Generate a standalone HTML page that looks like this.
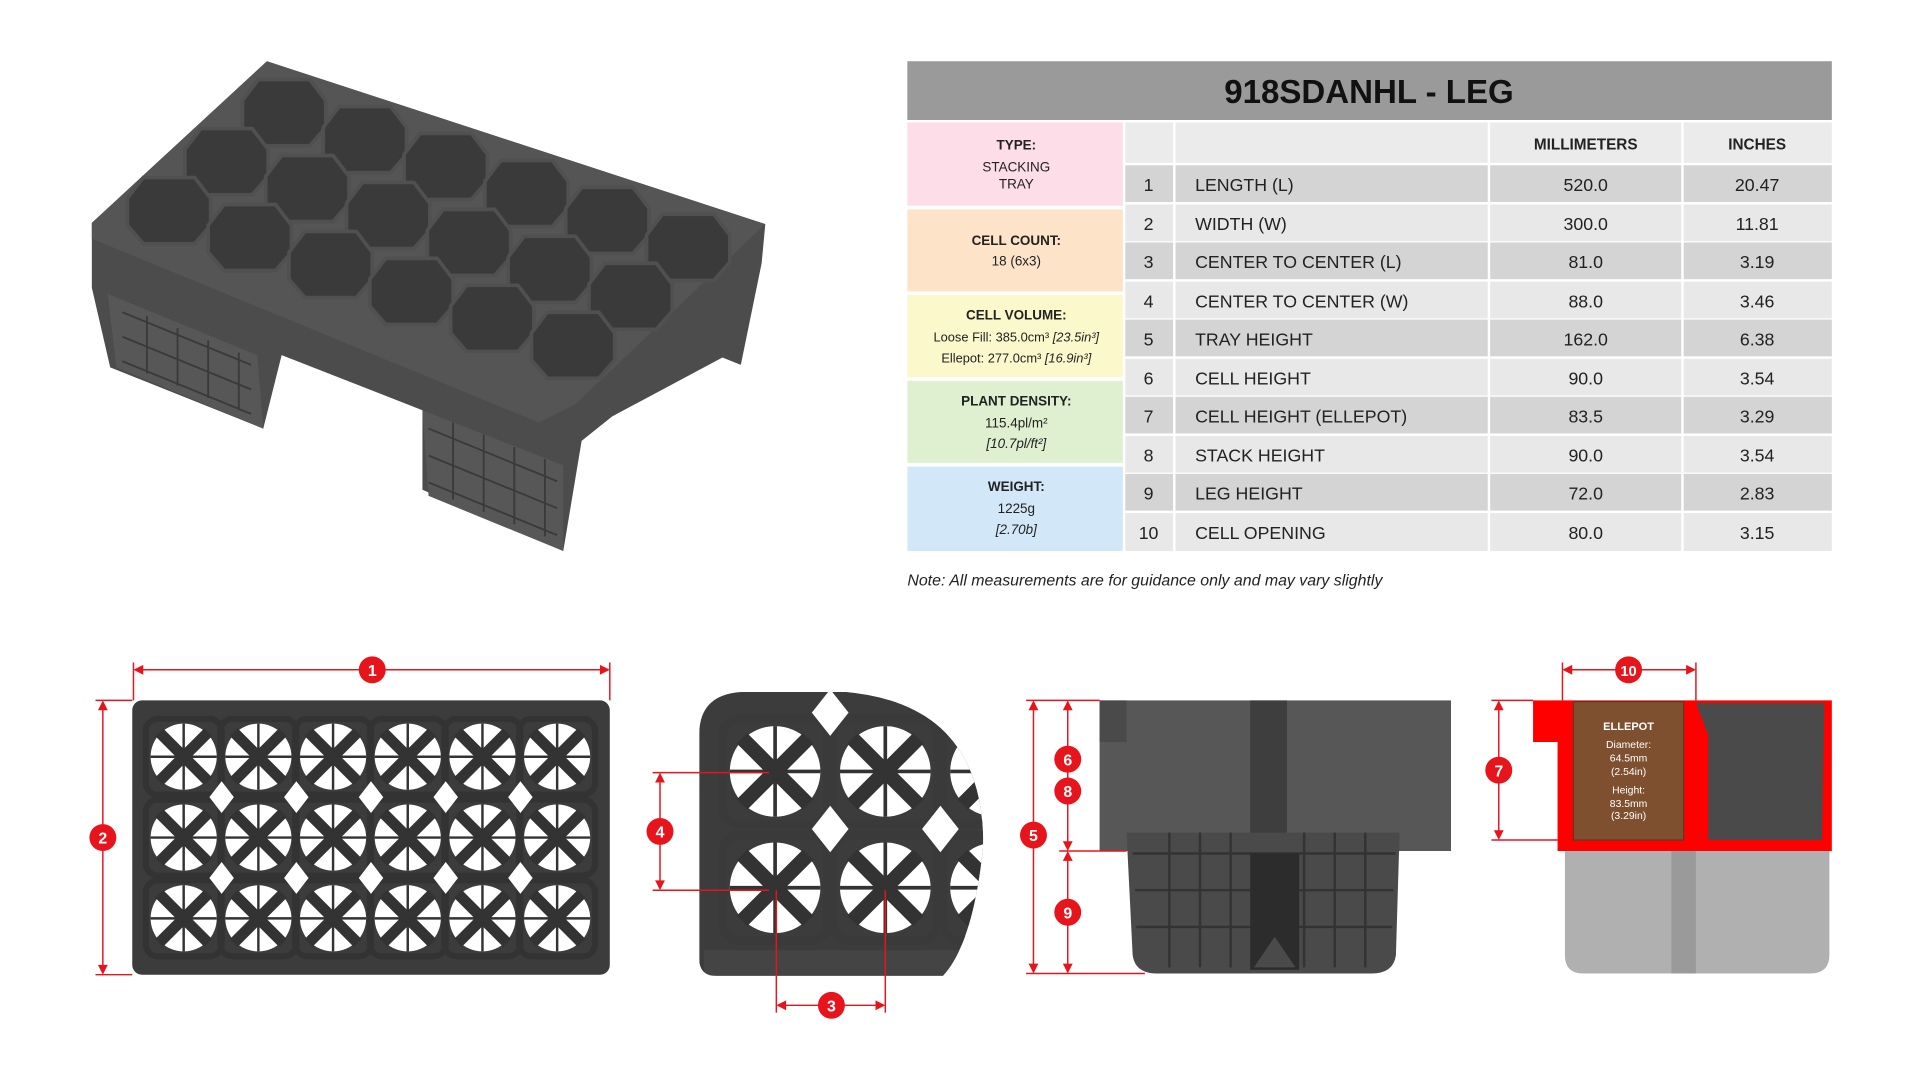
<!DOCTYPE html>
<html><head><meta charset="utf-8"><style>
html,body{margin:0;padding:0;background:#fff;width:1920px;height:1080px;overflow:hidden}
svg{display:block}
text{font-family:"Liberation Sans",sans-serif}
</style></head><body>
<svg width="1920" height="1080" viewBox="0 0 1568 882" xmlns="http://www.w3.org/2000/svg">
<defs>
<g id="cell">
<circle r="27" fill="#fff"/>
<path d="M-20,-20 L20,20 M20,-20 L-20,20" stroke="#333" stroke-width="9"/>
<path d="M-27,0 L27,0 M0,-27 L0,27" stroke="#333" stroke-width="2"/>
<rect x="-31" y="-31" width="62" height="62" fill="none" stroke="#333" stroke-width="5" rx="10"/>
</g>
<g id="bcell">
<circle r="37" fill="#fff"/>
<path d="M-27,-27 L27,27 M27,-27 L-27,27" stroke="#333" stroke-width="12"/>
<path d="M-37,0 L37,0 M0,-37 L0,37" stroke="#333" stroke-width="3"/>
<rect x="-43" y="-43" width="86" height="86" fill="none" stroke="#3a3a3a" stroke-width="7" rx="14"/>
</g>
<g id="dia"><path d="M0,-13 L10,0 L0,13 L-10,0Z" fill="#fff"/></g>
<g id="bdia"><path d="M0,-19 L15,0 L0,19 L-15,0Z" fill="#fff"/></g>
<g id="oct"><path d="M-21,-27 L21,-27 L34,-10 L34,12 L21,27 L-21,27 L-34,12 L-34,-10Z" fill="#3a3a3a" stroke="#505050" stroke-width="3"/></g>
<clipPath id="detclip"><path d="M571,600 Q571,565 610,565 L690,565 Q803,575 803,690 Q795,770 770,797 L585,797 Q571,797 571,783Z"/></clipPath>
</defs>

<!-- 3D tray -->
<g>
<polygon points="75,182 218,50 625,183 622,215 605,298 590,292 500,340 475,360 460,450 345,400 345,335 230,290 215,350 90,300 75,235" fill="#4c4c4c"/>
<polygon points="75,182 218,50 625,183 470,330 440,345 75,195" fill="#555"/>
<polygon points="88,240 210,290 215,350 95,300" fill="#575757"/>
<polygon points="345,335 460,380 460,450 350,405" fill="#575757"/>
<g stroke="#3a3a3a" stroke-width="1.5" fill="none">
<path d="M100,255 L205,298 M100,275 L205,318 M100,295 L205,338"/>
<path d="M120,258 L120,305 M145,268 L145,315 M170,278 L170,325 M195,288 L195,335"/>
<path d="M350,350 L455,393 M350,372 L455,415 M350,394 L455,437"/>
<path d="M370,345 L370,408 M395,355 L395,418 M420,365 L420,428 M445,375 L445,438"/>
</g>
<g>
<use href="#oct" x="232" y="92"/><use href="#oct" x="298" y="114"/><use href="#oct" x="364" y="136"/><use href="#oct" x="430" y="158"/><use href="#oct" x="496" y="180"/><use href="#oct" x="562" y="202"/>
<use href="#oct" x="185" y="132"/><use href="#oct" x="251" y="154"/><use href="#oct" x="317" y="176"/><use href="#oct" x="383" y="198"/><use href="#oct" x="449" y="220"/><use href="#oct" x="515" y="242"/>
<use href="#oct" x="138" y="172"/><use href="#oct" x="204" y="194"/><use href="#oct" x="270" y="216"/><use href="#oct" x="336" y="238"/><use href="#oct" x="402" y="260"/><use href="#oct" x="468" y="282"/>
</g>
</g>

<!-- Table -->
<rect x="741" y="50" width="755" height="48" fill="#9a9a9a"/>
<text x="1118" y="84" text-anchor="middle" font-size="27" font-weight="bold" fill="#111">918SDANHL - LEG</text>
<rect x="741" y="100" width="176" height="68" fill="#fcdde8"/>
<rect x="741" y="171" width="176" height="67" fill="#fde3c8"/>
<rect x="741" y="241" width="176" height="67" fill="#fbf8cb"/>
<rect x="741" y="311" width="176" height="67" fill="#def0d0"/>
<rect x="741" y="381" width="176" height="69" fill="#d2e8f8"/>
<g font-size="11" fill="#222" text-anchor="middle">
<text x="830" y="122" font-weight="bold">TYPE:</text><text x="830" y="140">STACKING</text><text x="830" y="154">TRAY</text>
<text x="830" y="200" font-weight="bold">CELL COUNT:</text><text x="830" y="217">18 (6x3)</text>
<text x="830" y="261" font-weight="bold">CELL VOLUME:</text><text x="830" y="279" font-size="10.5">Loose Fill: 385.0cm³ <tspan font-style="italic">[23.5in³]</tspan></text><text x="830" y="296" font-size="10.5">Ellepot: 277.0cm³ <tspan font-style="italic">[16.9in³]</tspan></text>
<text x="830" y="331" font-weight="bold">PLANT DENSITY:</text><text x="830" y="349">115.4pl/m²</text><text x="830" y="366" font-style="italic">[10.7pl/ft²]</text>
<text x="830" y="401" font-weight="bold">WEIGHT:</text><text x="830" y="419">1225g</text><text x="830" y="436" font-style="italic">[2.70b]</text>
</g>
<g>
<rect x="919" y="100" width="39" height="33" fill="#ebebeb"/><rect x="960" y="100" width="255" height="33" fill="#ebebeb"/><rect x="1217" y="100" width="156" height="33" fill="#ebebeb"/><rect x="1375" y="100" width="121" height="33" fill="#ebebeb"/>
<text x="1295" y="122" text-anchor="middle" font-size="12.5" font-weight="bold" fill="#222">MILLIMETERS</text>
<text x="1435" y="122" text-anchor="middle" font-size="12.5" font-weight="bold" fill="#222">INCHES</text>
</g>
<g font-size="14.5" fill="#222">
<g fill="#d4d4d4"><rect x="919" y="135" width="39" height="30"/><rect x="960" y="135" width="255" height="30"/><rect x="1217" y="135" width="156" height="30"/><rect x="1375" y="135" width="121" height="30"/></g>
<g fill="#e8e8e8"><rect x="919" y="167" width="39" height="30"/><rect x="960" y="167" width="255" height="30"/><rect x="1217" y="167" width="156" height="30"/><rect x="1375" y="167" width="121" height="30"/></g>
<g fill="#d4d4d4"><rect x="919" y="198" width="39" height="30"/><rect x="960" y="198" width="255" height="30"/><rect x="1217" y="198" width="156" height="30"/><rect x="1375" y="198" width="121" height="30"/></g>
<g fill="#e8e8e8"><rect x="919" y="230" width="39" height="30"/><rect x="960" y="230" width="255" height="30"/><rect x="1217" y="230" width="156" height="30"/><rect x="1375" y="230" width="121" height="30"/></g>
<g fill="#d4d4d4"><rect x="919" y="261" width="39" height="30"/><rect x="960" y="261" width="255" height="30"/><rect x="1217" y="261" width="156" height="30"/><rect x="1375" y="261" width="121" height="30"/></g>
<g fill="#e8e8e8"><rect x="919" y="293" width="39" height="30"/><rect x="960" y="293" width="255" height="30"/><rect x="1217" y="293" width="156" height="30"/><rect x="1375" y="293" width="121" height="30"/></g>
<g fill="#d4d4d4"><rect x="919" y="324" width="39" height="30"/><rect x="960" y="324" width="255" height="30"/><rect x="1217" y="324" width="156" height="30"/><rect x="1375" y="324" width="121" height="30"/></g>
<g fill="#e8e8e8"><rect x="919" y="356" width="39" height="30"/><rect x="960" y="356" width="255" height="30"/><rect x="1217" y="356" width="156" height="30"/><rect x="1375" y="356" width="121" height="30"/></g>
<g fill="#d4d4d4"><rect x="919" y="387" width="39" height="30"/><rect x="960" y="387" width="255" height="30"/><rect x="1217" y="387" width="156" height="30"/><rect x="1375" y="387" width="121" height="30"/></g>
<g fill="#e8e8e8"><rect x="919" y="419" width="39" height="31"/><rect x="960" y="419" width="255" height="31"/><rect x="1217" y="419" width="156" height="31"/><rect x="1375" y="419" width="121" height="31"/></g>
<g text-anchor="middle">
<text x="938" y="156">1</text><text x="938" y="188">2</text><text x="938" y="219">3</text><text x="938" y="251">4</text><text x="938" y="282">5</text><text x="938" y="314">6</text><text x="938" y="345">7</text><text x="938" y="377">8</text><text x="938" y="408">9</text><text x="938" y="440">10</text>
<text x="1295" y="156">520.0</text><text x="1295" y="188">300.0</text><text x="1295" y="219">81.0</text><text x="1295" y="251">88.0</text><text x="1295" y="282">162.0</text><text x="1295" y="314">90.0</text><text x="1295" y="345">83.5</text><text x="1295" y="377">90.0</text><text x="1295" y="408">72.0</text><text x="1295" y="440">80.0</text>
<text x="1435" y="156">20.47</text><text x="1435" y="188">11.81</text><text x="1435" y="219">3.19</text><text x="1435" y="251">3.46</text><text x="1435" y="282">6.38</text><text x="1435" y="314">3.54</text><text x="1435" y="345">3.29</text><text x="1435" y="377">3.54</text><text x="1435" y="408">2.83</text><text x="1435" y="440">3.15</text>
</g>
<text x="976" y="156">LENGTH (L)</text><text x="976" y="188">WIDTH (W)</text><text x="976" y="219">CENTER TO CENTER (L)</text><text x="976" y="251">CENTER TO CENTER (W)</text><text x="976" y="282">TRAY HEIGHT</text><text x="976" y="314">CELL HEIGHT</text><text x="976" y="345">CELL HEIGHT (ELLEPOT)</text><text x="976" y="377">STACK HEIGHT</text><text x="976" y="408">LEG HEIGHT</text><text x="976" y="440">CELL OPENING</text>
</g>
<text x="741" y="478" font-size="13" font-style="italic" fill="#222">Note: All measurements are for guidance only and may vary slightly</text>

<!-- Top view -->
<rect x="108" y="572" width="390" height="224" rx="8" fill="#3c3c3c"/>
<g>
<use href="#cell" x="150" y="618"/><use href="#cell" x="211" y="618"/><use href="#cell" x="272" y="618"/><use href="#cell" x="333" y="618"/><use href="#cell" x="394" y="618"/><use href="#cell" x="455" y="618"/>
<use href="#cell" x="150" y="684"/><use href="#cell" x="211" y="684"/><use href="#cell" x="272" y="684"/><use href="#cell" x="333" y="684"/><use href="#cell" x="394" y="684"/><use href="#cell" x="455" y="684"/>
<use href="#cell" x="150" y="750"/><use href="#cell" x="211" y="750"/><use href="#cell" x="272" y="750"/><use href="#cell" x="333" y="750"/><use href="#cell" x="394" y="750"/><use href="#cell" x="455" y="750"/>
<use href="#dia" x="181" y="651"/><use href="#dia" x="242" y="651"/><use href="#dia" x="303" y="651"/><use href="#dia" x="364" y="651"/><use href="#dia" x="425" y="651"/>
<use href="#dia" x="181" y="717"/><use href="#dia" x="242" y="717"/><use href="#dia" x="303" y="717"/><use href="#dia" x="364" y="717"/><use href="#dia" x="425" y="717"/>
</g>

<!-- Detail view -->
<g clip-path="url(#detclip)">
<rect x="571" y="565" width="232" height="232" fill="#3c3c3c"/>
<use href="#bcell" x="633" y="630"/><use href="#bcell" x="723" y="630"/><use href="#bcell" x="633" y="725"/><use href="#bcell" x="723" y="725"/><use href="#bcell" x="813" y="630"/><use href="#bcell" x="813" y="725"/>
<use href="#bdia" x="678" y="582"/><use href="#bdia" x="678" y="677"/><use href="#bdia" x="768" y="677"/>
<rect x="575" y="776" width="230" height="21" fill="#444"/>
</g>

<!-- Side view -->
<rect x="898" y="572" width="287" height="123" fill="#575757"/>
<rect x="898" y="572" width="22" height="34" fill="#4a4a4a"/>
<rect x="1021" y="572" width="30" height="123" fill="#3e3e3e"/>
<path d="M920,680 L1143,680 L1140,780 Q1138,795 1120,795 L945,795 Q927,795 925,780Z" fill="#4a4a4a"/>
<g stroke="#333" stroke-width="2" fill="none">
<path d="M925,697 L1140,697 M927,727 L1138,727 M928,757 L1137,757"/>
<path d="M955,680 L955,790 M980,680 L980,790 M1005,680 L1005,790 M1065,680 L1065,790 M1090,680 L1090,790 M1115,680 L1115,790"/>
</g>
<rect x="1021" y="697" width="40" height="95" fill="#2c2c2c"/>
<path d="M1041,765 L1024,790 L1058,790Z" fill="#4a4a4a"/>

<!-- Section view -->
<path d="M1278,695 L1494,695 L1494,780 Q1494,795 1478,795 L1293,795 Q1278,795 1278,780Z" fill="#b0b0b0"/>
<rect x="1365" y="695" width="20" height="100" fill="#9a9a9a"/>
<path d="M1252,572 L1496,572 L1496,695 L1272,695 L1272,606 L1252,606Z" fill="#ff0000"/>
<path d="M1385,574 L1395,600 L1395,686 L1488,686 L1490,574Z" fill="#4a4a4a"/>
<rect x="1285" y="573" width="90" height="113" fill="#7e5030" stroke="#5a3a20"/>
<g fill="#fff" text-anchor="middle" font-size="8.5">
<text x="1330" y="596" font-weight="bold" font-size="9">ELLEPOT</text>
<text x="1330" y="611">Diameter:</text><text x="1330" y="622">64.5mm</text><text x="1330" y="633">(2.54in)</text>
<text x="1330" y="648">Height:</text><text x="1330" y="659">83.5mm</text><text x="1330" y="669">(3.29in)</text>
</g>

<!-- Dimension lines -->
<g stroke="#e8141c" stroke-width="1.2" fill="none">
<path d="M109,541 L109,572 M498,541 L498,572 M112,547 L495,547"/>
<path d="M78,572 L108,572 M78,796 L108,796 M84,575 L84,793"/>
<path d="M533,631 L628,631 M533,727 L628,727 M539,634 L539,724"/>
<path d="M634,727 L634,827 M723,727 L723,827 M637,821 L720,821"/>
<path d="M838,572 L898,572 M865,695 L920,695 M838,795 L935,795 M844,575 L844,792 M872,575 L872,692 M872,698 L872,792"/>
<path d="M1218,572 L1252,572 M1218,686 L1272,686 M1224,575 L1224,683"/>
<path d="M1276,541 L1276,572 M1385,541 L1385,572 M1279,547 L1382,547"/>
</g>
<g fill="#e8141c">
<path d="M109,547 l8,-4 v8z"/><path d="M498,547 l-8,-4 v8z"/>
<path d="M84,572 l-4,8 h8z"/><path d="M84,796 l-4,-8 h8z"/>
<path d="M539,631 l-4,8 h8z"/><path d="M539,727 l-4,-8 h8z"/>
<path d="M634,821 l8,-4 v8z"/><path d="M723,821 l-8,-4 v8z"/>
<path d="M844,572 l-4,8 h8z"/><path d="M844,795 l-4,-8 h8z"/>
<path d="M872,572 l-4,8 h8z"/><path d="M872,695 l-4,-8 h8z"/><path d="M872,695 l-4,8 h8z"/><path d="M872,795 l-4,-8 h8z"/>
<path d="M1224,572 l-4,8 h8z"/><path d="M1224,686 l-4,-8 h8z"/>
<path d="M1276,547 l8,-4 v8z"/><path d="M1385,547 l-8,-4 v8z"/>
<circle cx="304" cy="547" r="11"/><circle cx="84" cy="684" r="11"/><circle cx="539" cy="679" r="11"/><circle cx="679" cy="821" r="11"/>
<circle cx="844" cy="682" r="11"/><circle cx="872" cy="620" r="11"/><circle cx="872" cy="646" r="11"/><circle cx="872" cy="745" r="11"/>
<circle cx="1224" cy="629" r="11"/><circle cx="1330" cy="547" r="11"/>
</g>
<g fill="#fff" font-size="13" font-weight="bold" text-anchor="middle">
<text x="304" y="552">1</text><text x="84" y="689">2</text><text x="539" y="684">4</text><text x="679" y="826">3</text>
<text x="844" y="687">5</text><text x="872" y="625">6</text><text x="872" y="651">8</text><text x="872" y="750">9</text>
<text x="1224" y="634">7</text><text x="1330" y="552" font-size="12">10</text>
</g>
</svg>
</body></html>
